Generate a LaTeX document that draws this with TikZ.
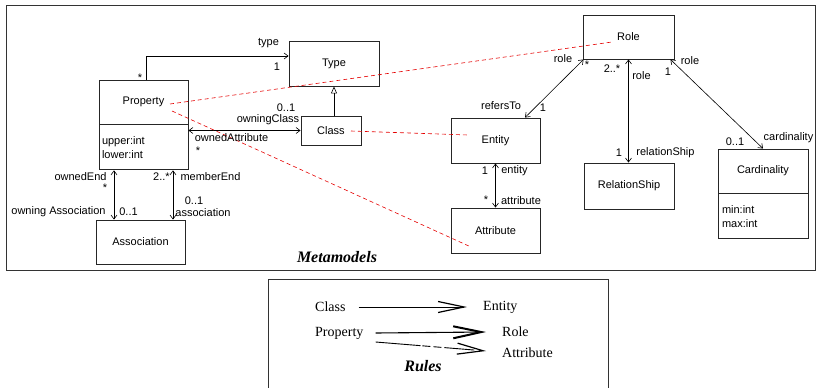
\documentclass[tikz,border=0pt]{standalone}
\usepackage{fontspec}
\setmainfont{Liberation Serif}
\setsansfont{Liberation Sans}
\usetikzlibrary{arrows.meta,calc}
\begin{document}
\begin{tikzpicture}[x=1pt,y=-1pt,
  lbl/.style={font=\sffamily\fontsize{11}{12}\selectfont, inner sep=0pt},
  cls/.style={draw=black!85, line width=0.9pt, font=\sffamily\fontsize{11}{12}\selectfont, inner sep=0pt},
  attrs/.style={draw=black!85, line width=0.9pt, font=\sffamily\fontsize{11}{13.5}\selectfont, align=left, inner sep=0pt, anchor=north},
  link/.style={line width=0.6pt},
  both/.style={link, {Straight Barb[length=4pt,width=6pt]}-{Straight Barb[length=4pt,width=6pt]}},
  toarr/.style={link, -{Straight Barb[length=4pt,width=6pt]}},
  gen/.style={link, -{Triangle[open,length=7pt,width=6pt]}},
  trace/.style={red!90!black, dashed, dash pattern=on 4pt off 3pt, line width=0.6pt},
  frame/.style={draw=black!80, line width=1pt},
  rule/.style={line width=0.9pt, -{Straight Barb[length=26pt,width=11pt,line width=1.2pt]}},
  ruletxt/.style={font=\fontsize{14}{16}\selectfont, inner sep=0pt},
  title/.style={font=\bfseries\itshape\fontsize{16}{18}\selectfont, inner sep=0pt}
]
\useasboundingbox (0,0) rectangle (820,388);
% frames
\draw[frame] (6,5) rectangle (815,270);
\draw[frame] (268,392) -- (268,279) -- (608,279) -- (608,392);

% classes
\node[cls, minimum width=90, minimum height=45] (type) at (334,63.5) {Type};
\node[cls, minimum width=89, minimum height=44] (property) at (143.5,102) {Property};
\node[attrs, text width=83, minimum width=89, minimum height=45, inner xsep=3pt] (propattr) at (property.south) {upper:int\\lower:int};
\node[cls, minimum width=60, minimum height=29] (class) at (331,130.5) {Class};
\node[cls, minimum width=89, minimum height=44] (association) at (140.5,242) {Association};
\node[cls, minimum width=91, minimum height=44] (role) at (628.5,37) {Role};
\node[cls, minimum width=89, minimum height=45] (entity) at (495.5,140.5) {Entity};
\node[cls, minimum width=89, minimum height=45] (attribute) at (495.5,230.5) {Attribute};
\node[cls, minimum width=90, minimum height=46] (relship) at (629,186) {RelationShip};
\node[cls, minimum width=90, minimum height=44] (card) at (763,171) {Cardinality};
\node[attrs, text width=82, minimum width=90, minimum height=45, inner xsep=4pt] (cardattr) at (card.south) {min:int\\max:int};

\node[title] (metamodels) at (337,257) {Metamodels};

% connectors
\coordinate (cn) at ($(class.north)+(3,0)$);
\draw[toarr] ($(property.north)+(2.5,0)$) |- ($(type.west)+(0,-7.5)$);
\draw[gen] (cn) -- (cn |- type.south);
\draw[both] (propattr.east |- class.west) -- (class.west);
\draw[both] (propattr.south -| 114,0) -- (association.north -| 114,0);
\draw[both] (propattr.south -| 173,0) -- (association.north -| 173,0);
\draw[both] ($(role.south west)+(1,0)$) -- (entity.north -| 525,0);
\draw[both] (role.south) -- (relship.north -| role.south);
\draw[both] ($(role.south east)+(-4,0)$) -- (card.north);
\draw[both] (entity.south) -- (attribute.north);

% trace lines
\draw[trace] ($(property.center)+(26.5,2)$) -- ($(role.center)+(-16.5,5)$);
\draw[trace] ($(class.center)+(20,0.5)$) -- ($(entity.center)+(-27.5,-5.5)$);
\draw[trace] ($(property.center)+(28.5,9)$) -- ($(attribute.center)+(-24.5,16.5)$);

% labels left
\node[lbl] (l1) at (268.5,43) {type};
\node[lbl] (l2) at (277,67) {1};
\node[lbl] (l3) at (140,78) {*};
\node[lbl] (l4) at (286,108) {0..1};
\node[lbl] (l5) at (268,120) {owningClass};
\node[lbl] (l6) at (231.5,138) {ownedAttribute};
\node[lbl] (l7) at (198,151) {*};
\node[lbl] (l8) at (80.5,177) {ownedEnd};
\node[lbl] (l9) at (105,188) {*};
\node[lbl] (l10) at (58.5,212) {owning Association};
\node[lbl] (l11) at (128.5,212) {0..1};
\node[lbl] (l12) at (161.5,177) {2..*};
\node[lbl] (l13) at (210.5,177) {memberEnd};
\node[lbl] (l14) at (194,201) {0..1};
\node[lbl] (l15) at (203,213) {association};

% labels right
\node[lbl] (r1) at (563,59) {role};
\node[lbl] (r2) at (587,65) {*};
\node[lbl] (r3) at (501,106) {refersTo};
\node[lbl] (r4) at (543,108) {1};
\node[lbl] (r5) at (612,69) {2..*};
\node[lbl] (r6) at (641.5,76) {role};
\node[lbl] (r7) at (619,153) {1};
\node[lbl] (r8) at (665.5,153) {relationShip};
\node[lbl] (r9) at (690,61) {role};
\node[lbl] (r10) at (668,72) {1};
\node[lbl] (r11) at (735,142) {0..1};
\node[lbl] (r12) at (788.5,138) {cardinality};
\node[lbl] (r13) at (485,171) {1};
\node[lbl] (r14) at (514.5,171) {entity};
\node[lbl] (r15) at (486,200) {*};
\node[lbl] (r16) at (521,201) {attribute};

% rules
\node[ruletxt, anchor=west] (rclass) at (315,307) {Class};
\node[ruletxt, anchor=west] (rentity) at (483,307) {Entity};
\node[ruletxt, anchor=west] (rprop) at (315,333) {Property};
\node[ruletxt, anchor=west] (rrole) at (502,332) {Role};
\node[ruletxt, anchor=west] (rattr) at (502,353) {Attribute};
\node[title] (rules) at (423,366) {Rules};
\draw[rule] ($(rclass.east)+(13,0)$) -- ($(rentity.west)+(-16,0)$);
\draw[rule, line width=1.1pt, -{Straight Barb[length=28pt,width=12pt,line width=2pt]}] ($(rprop.east)+(12,0)$) -- ($(rrole.west)+(-16,0)$);
\draw[rule, dash pattern=on 45pt off 2pt on 8pt off 3pt on 8pt off 3pt on 30pt] ($(rprop.east)+(12,9)$) -- ($(rattr.west)+(-16,-2)$);
\end{tikzpicture}
\end{document}
